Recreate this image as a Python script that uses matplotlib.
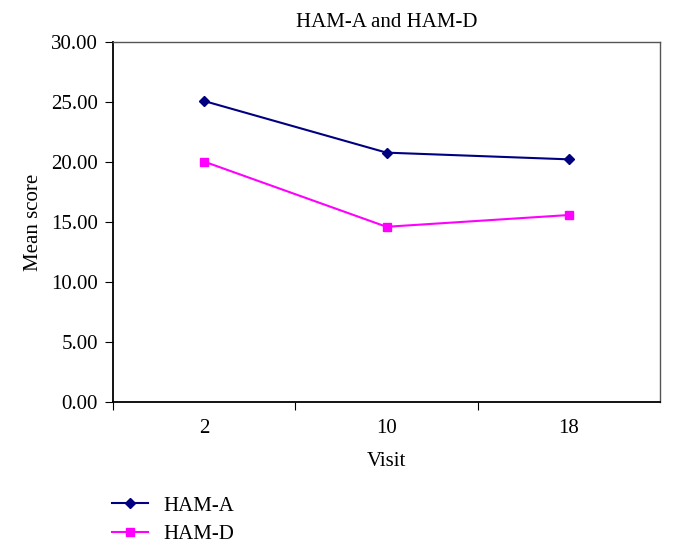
import matplotlib.pyplot as plt

visits = ["2", "10", "18"]
ham_a = [25.08, 20.78, 20.22]
ham_d = [20.03, 14.6, 15.58]

plt.rcParams['font.family'] = ['Liberation Serif', 'DejaVu Serif']
plt.rcParams['font.size'] = 15

fig = plt.figure(figsize=(6.74, 5.49), dpi=100)
ax = fig.add_axes([0.1677, 0.2678, 0.8116, 0.6557])

x = range(len(visits))
l1, = ax.plot(x, ham_a, color="#000080", marker="D", ms=5, lw=1.5)
l2, = ax.plot(x, ham_d, color="#FF00FF", marker="s", ms=6, lw=1.5)

ax.set_xlim(-0.5, len(visits) - 0.5)
ax.set_ylim(0, 30)
ax.set_yticks([0, 5, 10, 15, 20, 25, 30])
ax.set_yticklabels(["%.2f" % v for v in ax.get_yticks()])

# category boundaries get the tick marks, labels sit in between
ax.set_xticks([i - 0.5 for i in range(len(visits))])
ax.set_xticklabels([])
ax.set_xticks(list(x), minor=True)
ax.set_xticklabels(visits, minor=True)
ax.tick_params(axis="x", which="major", length=6, direction="out")
ax.tick_params(axis="x", which="minor", length=0, pad=12)
ax.tick_params(axis="y", length=6, direction="out", pad=5)

for s in ["left", "bottom"]:
    ax.spines[s].set_linewidth(1.3)
for s in ["top", "right"]:
    ax.spines[s].set_linewidth(1.0)
    ax.spines[s].set_color("#555555")

ax.set_title("HAM-A and HAM-D", fontsize=15, pad=11)
ax.set_xlabel("Visit", labelpad=10)
ax.set_ylabel("Mean score", labelpad=6)

fig.legend([l1, l2], ["HAM-A", "HAM-D"], loc="upper left",
           bbox_to_anchor=(112 / 674, 1 - 496 / 549), frameon=False,
           borderpad=0, borderaxespad=0, handlelength=1.75,
           handletextpad=0.7, labelspacing=0.42, fontsize=15)

fig.savefig("out.png", dpi=100)
